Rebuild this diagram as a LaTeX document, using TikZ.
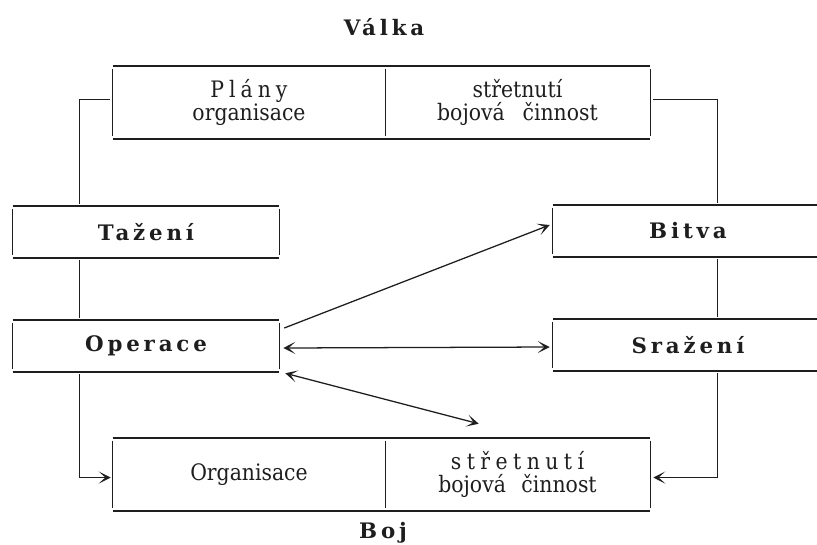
\documentclass[tikz,border=0pt]{standalone}
\usepackage{fontspec}
\setmainfont{DejaVu Serif}
\usetikzlibrary{arrows.meta,calc}
\definecolor{ink}{HTML}{1E1E1E}
\begin{document}
\begin{tikzpicture}[x=0.75pt,y=-0.75pt,
  thinline/.style={line width=0.9pt, draw=ink},
  thickline/.style={line width=1.6pt, draw=ink},
  conn/.style={line width=0.95pt, draw=ink},
  tip/.style={-{Stealth[length=9pt,width=9pt,inset=5pt]}},
  twotip/.style={{Stealth[length=9pt,width=9pt,inset=5pt]}-{Stealth[length=9pt,width=9pt,inset=5pt]}},
  cell/.style={inner sep=0pt, align=center, text=ink, minimum height=54.75pt,
    font=\fontsize{17}{17}\selectfont\addfontfeature{FakeStretch=0.9}},
  headbox/.style={inner sep=0pt, align=center, text=ink, minimum height=39pt,
    font=\fontsize{16}{18}\selectfont\bfseries\addfontfeature{LetterSpace=18}},
  title/.style={inner sep=0pt, text=ink,
    font=\fontsize{16}{18}\selectfont\bfseries\addfontfeature{LetterSpace=18}}
]
\useasboundingbox (0,0) rectangle (817,544);
\fill[white] (0,0) rectangle (817,544);

% titles
\node[title] (valka) at (384,27) {Válka};
\node[title] (boj) at (383,533) {Boj};

% top box
\node[cell, minimum width=204pt] (tl) at (249,102.5)
  {{\addfontfeature{LetterSpace=22}Plány\hspace{-0.22em}}\\organisace};
\node[cell, minimum width=198.75pt] (tr) at (517.5,102.5)
  {střetnutí\\bojová\hspace{0.5em} činnost};

% bottom box
\node[cell, minimum width=204pt] (bl) at (249,474.5) {Organisace};
\node[cell, minimum width=198.75pt] (br) at (517.5,474.5)
  {{\addfontfeature{LetterSpace=24}střetnutí\hspace{-0.24em}}\\bojová\hspace{0.4em} činnost};

% side boxes
\node[headbox, minimum width=199.5pt] (taz) at (146,232) {Tažení};
\node[headbox, minimum width=199.5pt] (oper) at (146,346) {Operace};
\node[headbox, minimum width=202.5pt] (bitva) at (688,231) {Bitva};
\node[headbox, minimum width=202.5pt] (sraz) at (688,345) {Sražení};

% frames of the split boxes
\foreach \l/\r in {tl/tr, bl/br}{
  \draw[thickline] (\l.north west) -- (\r.north east);
  \draw[thickline] (\l.south west) -- (\r.south east);
  \draw[thinline] ($(\l.north west)+(0,3)$) -- ($(\l.south west)+(0,-3)$);
  \draw[thinline] ($(\l.north east)+(0,3)$) -- ($(\l.south east)+(0,-3)$);
  \draw[thinline] ($(\r.north east)+(0,3)$) -- ($(\r.south east)+(0,-3)$);
}
% frames of the single boxes
\foreach \b in {taz, oper, bitva, sraz}{
  \draw[thickline] (\b.north west) -- (\b.north east);
  \draw[thickline] (\b.south west) -- (\b.south east);
  \draw[thinline] ($(\b.north west)+(0,3)$) -- ($(\b.south west)+(0,-3)$);
  \draw[thinline] ($(\b.north east)+(0,3)$) -- ($(\b.south east)+(0,-3)$);
}

% left chain
\draw[conn] ($(tl.west)+(-3,-3)$) -| ($(taz.north west)+(67,-2)$);
\draw[conn] ($(taz.south west)+(67,2)$) -- ($(oper.north west)+(67,-2)$);
\draw[conn, tip] ($(oper.south west)+(67,2)$) |- ($(bl.west)+(-2,3)$);

% right chain
\draw[conn] ($(tr.east)+(3,-3)$) -| ($(bitva.north west)+(165,-2)$);
\draw[conn] ($(bitva.south west)+(165,2)$) -- ($(sraz.north west)+(165,-2)$);
\draw[conn, tip] ($(sraz.south west)+(165,2)$) |- ($(br.east)+(3,3)$);

% arrows from Operace
\draw[conn, tip] ($(oper.east)+(5,-18)$) -- ($(bitva.west)+(-3,-6)$);
\draw[conn, twotip] ($(oper.east)+(4,2)$) -- ($(sraz.west)+(-3,2)$);
\coordinate (bojtop) at ($(br.north west)+(94,-14)$);
\draw[conn, twotip] ($(oper.south east)+(6,1)$) -- (bojtop);
\end{tikzpicture}
\end{document}
